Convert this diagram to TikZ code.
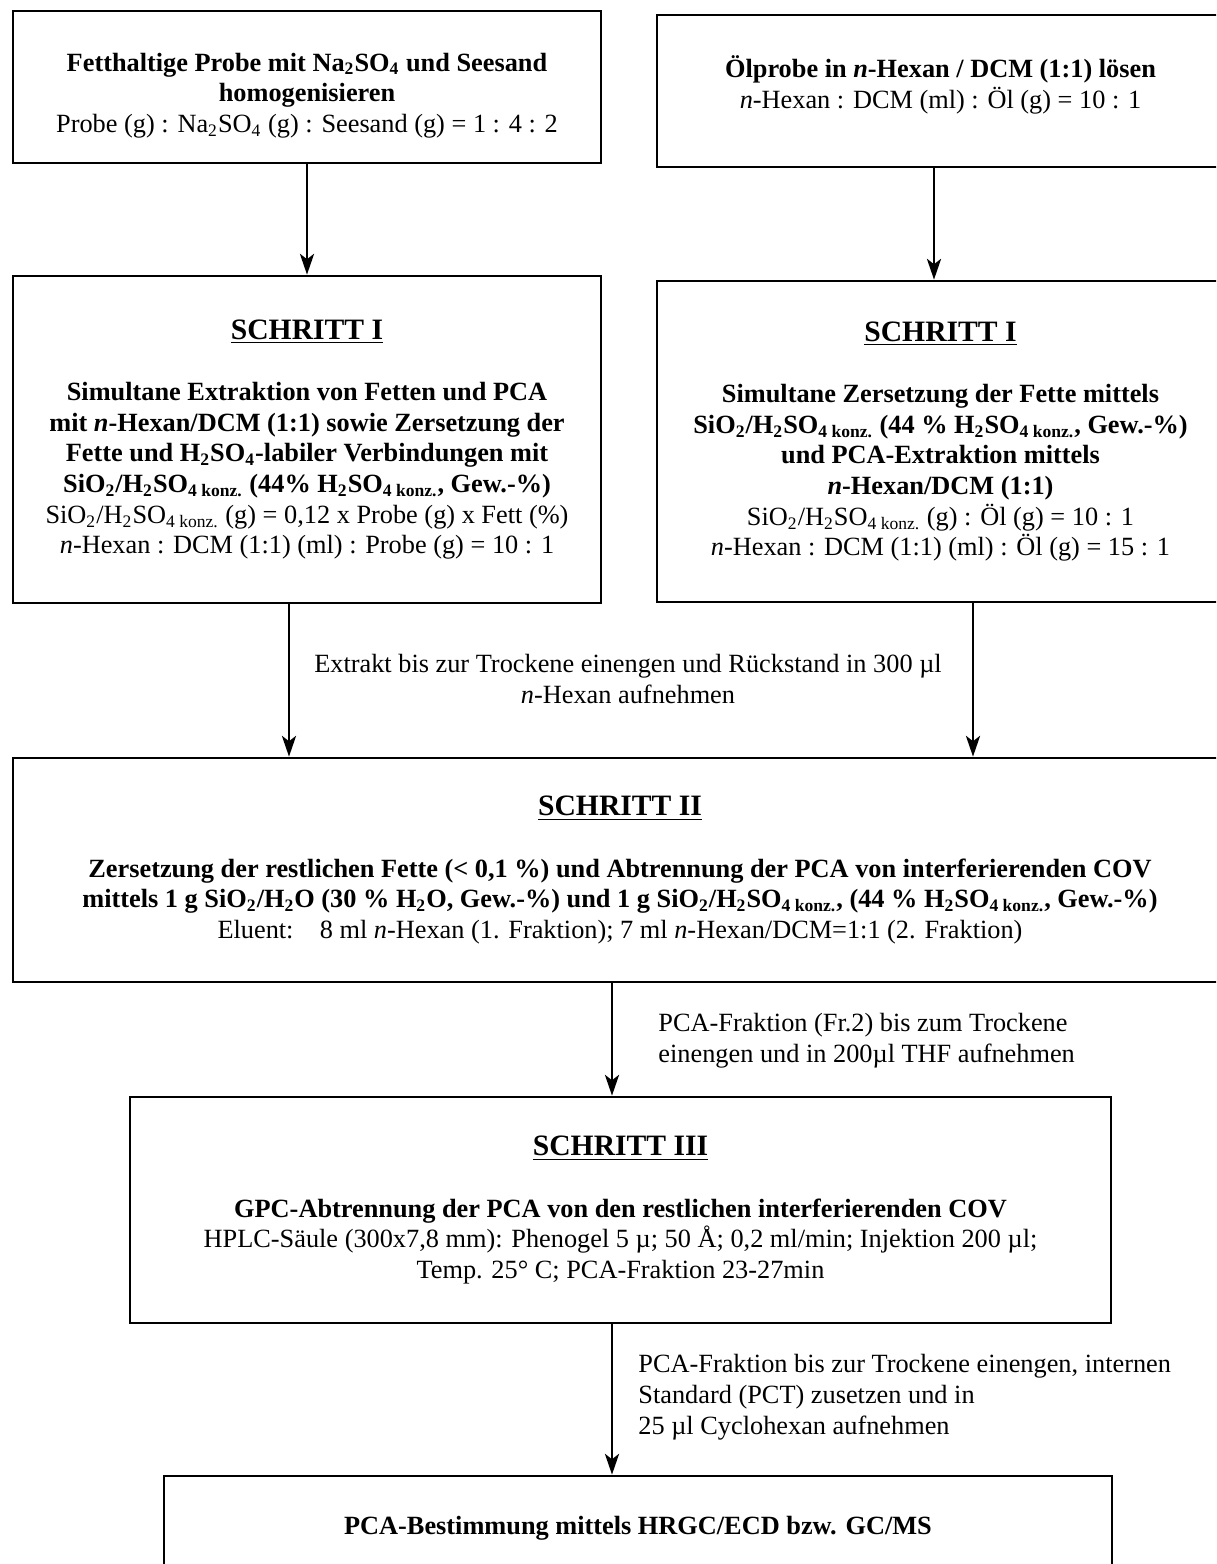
\documentclass[tikz,border=0pt]{standalone}
\usepackage{fontspec}
\setmainfont{Liberation Serif}
\usetikzlibrary{positioning, arrows.meta}

\newlength\pxl
\setlength\pxl{0.456pt}
\newcommand{\nx}{\textit{n}}
\newcommand{\sbs}[1]{\textsubscript{#1}}
\newcommand{\hd}[1]{{\fontsize{13.5}{16}\selectfont\bfseries\underline{#1}}}

\begin{document}
\begin{tikzpicture}[x=0.456pt, y=-0.456pt,
    font=\fontsize{12}{14}\selectfont,
    box/.style={draw, line width=1.3pt, align=center, inner sep=0pt},
    dim/.style 2 args={minimum width=#1*\pxl, minimum height=#2*\pxl},
    arr/.style={-{Stealth[length=9.5pt, width=6.5pt, inset=2.5pt]}, line width=0.8pt},
    note/.style={align=center, inner sep=0pt}]
\useasboundingbox (0,0) rectangle (1216,1564);
\clip (0,0) rectangle (1216,1564);

% Ausgangsproben
\node[box, dim={588}{152}] (fett) at (307,87)
  {\mbox{}\\[2pt]
   \textbf{Fetthaltige Probe mit Na\sbs{2}SO\sbs{4} und Seesand}\\
   \textbf{homogenisieren}\\
   Probe (g) : Na\sbs{2}SO\sbs{4} (g) : Seesand (g) = 1 : 4 : 2};
\node[box, dim={567}{152}] (oel) at (940.5,91)
  {\textbf{Ölprobe in \nx-Hexan / DCM (1:1) lösen}\\
   \nx-Hexan : DCM (ml) : Öl (g) = 10 : 1\\[-6pt]\mbox{}};

% Schritt I
\node[box, dim={588}{327}] (s1fett) at (307,439.5)
  {\hd{SCHRITT I}\\[14pt]
   \textbf{Simultane Extraktion von Fetten und PCA}\\
   \textbf{mit \nx-Hexan/DCM (1:1) sowie Zersetzung der}\\
   \textbf{Fette und H\sbs{2}SO\sbs{4}-labiler Verbindungen mit}\\
   \textbf{SiO\sbs{2}/H\sbs{2}SO\sbs{4 konz.} (44\% H\sbs{2}SO\sbs{4 konz.}, Gew.-\%)}\\
   SiO\sbs{2}/H\sbs{2}SO\sbs{4 konz.} (g) = 0,12 x Probe (g) x Fett (\%)\\
   \nx-Hexan : DCM (1:1) (ml) : Probe (g) = 10 : 1};
\node[box, dim={567}{321}] (s1oel) at (940.5,441.5)
  {\hd{SCHRITT I}\\[14pt]
   \textbf{Simultane Zersetzung der Fette mittels}\\
   \textbf{SiO\sbs{2}/H\sbs{2}SO\sbs{4 konz.} (44 \% H\sbs{2}SO\sbs{4 konz.}, Gew.-\%)}\\
   \textbf{und PCA-Extraktion mittels}\\
   \textbf{\nx-Hexan/DCM (1:1)}\\
   SiO\sbs{2}/H\sbs{2}SO\sbs{4 konz.} (g) : Öl (g) = 10 : 1\\
   \nx-Hexan : DCM (1:1) (ml) : Öl (g) = 15 : 1};

% Schritt II
\node[box, dim={1214}{224}] (s2) at (620,870)
  {\hd{SCHRITT II}\\[14pt]
   \textbf{Zersetzung der restlichen Fette (< 0,1 \%) und Abtrennung der PCA von interferierenden COV}\\
   \textbf{mittels 1 g SiO\sbs{2}/H\sbs{2}O (30 \% H\sbs{2}O, Gew.-\%) und 1 g SiO\sbs{2}/H\sbs{2}SO\sbs{4 konz.}, (44 \% H\sbs{2}SO\sbs{4 konz.}, Gew.-\%)}\\
   Eluent:\quad 8 ml \nx-Hexan (1. Fraktion); 7 ml \nx-Hexan/DCM=1:1 (2. Fraktion)};

% Schritt III
\node[box, dim={981}{226}] (s3) at (620.5,1210)
  {\hd{SCHRITT III}\\[14pt]
   \textbf{GPC-Abtrennung der PCA von den restlichen interferierenden COV}\\
   HPLC-Säule (300x7,8 mm): Phenogel 5 µ; 50 Å; 0,2 ml/min; Injektion 200 µl;\\
   Temp. 25° C; PCA-Fraktion 23-27min};

% Bestimmung
\node[box, dim={948}{104}] (best) at (638,1528)
  {\textbf{PCA-Bestimmung mittels HRGC/ECD bzw. GC/MS}};

% Hinweise an den Pfeilen
\node[note] (extr) at (628,679)
  {Extrakt bis zur Trockene einengen und Rückstand in 300 µl\\
   \nx-Hexan aufnehmen};
\node[note, align=left, anchor=west] (gpcin) at (658,1041)
  {PCA-Fraktion (Fr.2) bis zum Trockene\\
   einengen und in 200µl THF aufnehmen};
\node[note, align=left, anchor=west] (gcin) at (638,1397)
  {PCA-Fraktion bis zur Trockene einengen, internen\\
   Standard (PCT) zusetzen und in\\
   25 µl Cyclohexan aufnehmen};

% Pfeile
\draw[arr] (fett.south) -- (s1fett.north);
\draw[arr] (oel.south -| 934,0) -- (s1oel.north -| 934,0);
\draw[arr] (s1fett.south -| 289,0) -- (s2.north -| 289,0);
\draw[arr] (s1oel.south -| 973,0) -- (s2.north -| 973,0);
\draw[arr] (s2.south -| 612,0) -- (s3.north -| 612,0);
\draw[arr] (s3.south -| 612,0) -- (best.north -| 612,0);
\end{tikzpicture}
\end{document}
